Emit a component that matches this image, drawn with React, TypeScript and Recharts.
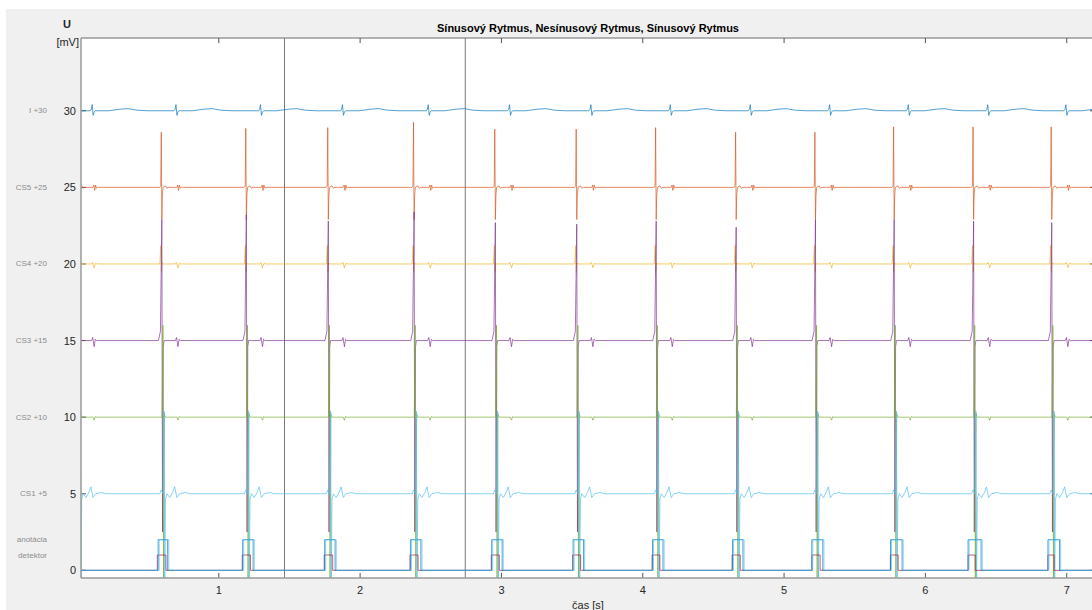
import { LineChart, Line, XAxis, YAxis, ReferenceLine, CartesianGrid } from 'recharts';

// axis limits [s] / [mV]
const X_MIN = 0.025;
const X_MAX = 7.2;
const Y_MIN = -0.5;
const Y_MAX = 34.75;

const xTicks = [1, 2, 3, 4, 5, 6, 7];
const yTicks = [0, 5, 10, 15, 20, 25, 30];
const yLabelTicks = [0, 1, 2, 5, 10, 15, 20, 25, 30];
const channelLabels: Record<number, string> = {
  30: 'I +30',
  25: 'CS5 +25',
  20: 'CS4 +20',
  15: 'CS3 +15',
  10: 'CS2 +10',
  5: 'CS1 +5',
  2: 'anotácia',
  1: 'detektor',
};

// boundaries between rhythm segments [s]
const rhythmBounds = [1.465, 2.744];

// beat onsets (first one lies just left of the window)
const beatTimes = [0.0, 0.593, 1.191, 1.771, 2.378, 2.953, 3.529, 4.091, 4.657, 5.218, 5.775, 6.337, 6.89];
const cs5Peaks = [28.8, 28.6, 28.85, 28.9, 29.25, 28.8, 28.8, 28.9, 28.6, 28.6, 28.95, 28.95, 28.95];
const cs3Peaks = [22.8, 22.9, 23.2, 22.8, 23.4, 22.7, 22.6, 22.8, 22.4, 22.9, 22.9, 22.8, 22.7];

// annotation / detector windows [s]
const annotStart = [0.571, 1.169, 1.749, 2.356, 2.931, 3.507, 4.069, 4.635, 5.196, 5.753, 6.302, 6.867];
const annotEnd = [0.638, 1.243, 1.823, 2.43, 3.005, 3.581, 4.143, 4.709, 5.274, 5.835, 6.394, 6.949];
const refStart = [0.578, 1.176, 1.756, 2.363, 2.938, 3.514, 4.076, 4.642, 5.203, 5.76, 6.309, 6.874];
const refEnd = [0.646, 1.251, 1.831, 2.438, 3.013, 3.589, 4.151, 4.717, 5.282, 5.843, 6.402, 6.957];
const detStart = [0.565, 1.166, 1.746, 2.353, 2.928, 3.504, 4.066, 4.632, 5.198, 5.752, 6.302, 6.867];
const detEnd = [0.626, 1.224, 1.806, 2.41, 2.985, 3.56, 4.121, 4.69, 5.255, 5.807, 6.352, 6.911];

// beat shapes: [time offset from beat, deviation from baseline]; PEAK takes the per-beat peak
const PEAK = NaN;
const leadIShape = [
  [0.09, 0], [0.098, 0.1], [0.104, 0.4], [0.111, -0.3], [0.118, -0.08], [0.126, 0],
  [0.22, 0], [0.3, 0.1], [0.36, 0.14], [0.42, 0.04], [0.5, 0],
];
const cs5Shape = [
  [-0.012, 0], [-0.004, 0.1], [0, PEAK], [0.004, -2.1], [0.008, -0.5], [0.013, 0],
  [0.03, 0.1], [0.04, -0.06], [0.05, 0],
  [0.11, 0], [0.116, 0.15], [0.122, -0.2], [0.128, 0.15], [0.135, -0.06], [0.142, 0],
];
const cs4Shape = [
  [-0.01, 0], [-0.003, 1.2], [0.001, -0.55], [0.005, 0.08], [0.01, 0],
  [0.1, 0], [0.108, 0.1], [0.118, -0.25], [0.128, 0.04], [0.14, 0],
];
const cs3Shape = [
  [-0.02, 0], [-0.006, 0.6], [0.004, PEAK], [0.009, -12.5], [0.014, -0.4], [0.02, 0],
  [0.1, 0], [0.108, 0.2], [0.118, -0.4], [0.126, 0.08], [0.135, 0],
];
const cs2Shape = [
  [0.005, 0], [0.012, 6.0], [0.016, -10.5], [0.022, 0.25], [0.028, 0],
  [0.11, 0], [0.118, -0.2], [0.126, 0.04], [0.132, 0],
];
const cs1Shape = [
  [-0.01, 0], [0.0, 0.25], [0.012, 0], [0.02, 5.4], [0.025, -5.6], [0.03, -0.35], [0.04, 0],
  [0.06, -0.25], [0.08, 0.08], [0.095, 0.45], [0.11, -0.25], [0.13, 0], [0.17, 0.08], [0.2, 0],
];

type Pt = { t: number; v: number };

function buildTrace(base: number, shape: number[][], peaks?: number[]): Pt[] {
  const pts: Pt[] = [{ t: -0.1, v: base }];
  beatTimes.forEach((bt, i) => {
    shape.forEach(([dt, dv]) => {
      pts.push({ t: bt + dt, v: Number.isNaN(dv) && peaks ? peaks[i] : base + dv });
    });
  });
  pts.push({ t: X_MAX + 0.1, v: base });
  return pts.sort((a, b) => a.t - b.t);
}

function buildBoxes(starts: number[], ends: number[], level: number): Pt[] {
  const pts: Pt[] = [{ t: -0.1, v: 0 }];
  starts.forEach((s, i) => {
    pts.push({ t: s, v: 0 }, { t: s, v: level }, { t: ends[i], v: level }, { t: ends[i], v: 0 });
  });
  pts.push({ t: X_MAX + 0.1, v: 0 });
  return pts;
}

const traces = [
  { name: 'I', color: '#0072BD', data: buildTrace(30, leadIShape) },
  { name: 'CS5', color: '#D95319', data: buildTrace(25, cs5Shape, cs5Peaks) },
  { name: 'CS4', color: '#EDB120', data: buildTrace(20, cs4Shape) },
  { name: 'CS3', color: '#7E2F8E', data: buildTrace(15, cs3Shape, cs3Peaks) },
  { name: 'CS2', color: '#77AC30', data: buildTrace(10, cs2Shape) },
  { name: 'CS1', color: '#4DBEEE', data: buildTrace(5, cs1Shape) },
  { name: 'detektor', color: '#A2142F', data: buildBoxes(detStart, detEnd, 1) },
  { name: 'anotácia', color: '#0072BD', data: buildBoxes(annotStart, annotEnd, 2) },
  { name: 'referencia', color: '#4DBEEE', data: buildBoxes(refStart, refEnd, 2) },
];

const FONT = '"Liberation Sans", Arial, Helvetica, sans-serif';
const TICK_X = 0.035;
const TICK_Y = 0.33;
const AXIS = '#9a9a9a';

function YTick(props: any) {
  const { y, payload } = props;
  const v = payload.value as number;
  const label = channelLabels[v];
  return (
    <g>
      {v % 5 === 0 && (
        <text x={76} y={y} textAnchor="end" dominantBaseline="central" fontSize={11} fill="#262626" fontFamily={FONT}>
          {v}
        </text>
      )}
      {label && (
        <text x={47} y={y} textAnchor="end" dominantBaseline="central" fontSize={8} fill="#8c8c8c" fontFamily={FONT}>
          {label}
        </text>
      )}
    </g>
  );
}

export default function App() {
  return (
    <div style={{ position: 'absolute', left: 0, top: 0, width: 1092, height: 610, overflow: 'hidden', background: '#fff', fontFamily: FONT }}>
      <div style={{ position: 'absolute', left: 6, top: 9, right: 0, bottom: 0, background: '#f0f0f0' }} />
      <div style={{ position: 'absolute', left: 0, top: 21, width: 1176, textAlign: 'center', fontSize: 11, fontWeight: 'bold', color: '#000', lineHeight: '14px' }}>
        Sínusový Rytmus, Nesínusový Rytmus, Sínusový Rytmus
      </div>
      <div style={{ position: 'absolute', left: 63, top: 17, fontSize: 11, fontWeight: 'bold', color: '#262626', lineHeight: '14px' }}>U</div>
      <div style={{ position: 'absolute', right: 1092 - 79, top: 35, fontSize: 11, color: '#262626', lineHeight: '14px' }}>[mV]</div>
      <div style={{ position: 'absolute', left: 0, top: 0 }}>
        <LineChart width={1100} height={610} margin={{ top: 38, right: 5, bottom: 0, left: 0 }}>
          <CartesianGrid horizontal={false} vertical={false} fill="#ffffff" fillOpacity={1} />
          <XAxis
            dataKey="t"
            type="number"
            domain={[X_MIN, X_MAX]}
            allowDataOverflow
            ticks={xTicks}
            interval={0}
            tickLine={false}
            tickSize={0}
            tickMargin={8}
            height={32}
            stroke={AXIS}
            strokeWidth={1.5}
            tick={{ fontSize: 11, fill: '#262626', fontFamily: FONT }}
            label={{ value: 'čas [s]', position: 'insideBottom', offset: 1, fontSize: 11, fill: '#262626', fontFamily: FONT }}
          />
          <YAxis
            type="number"
            domain={[Y_MIN, Y_MAX]}
            allowDataOverflow
            ticks={yLabelTicks}
            interval={0}
            width={81}
            tickLine={false}
            stroke={AXIS}
            strokeWidth={1.5}
            tick={<YTick />}
          />
          <ReferenceLine y={Y_MAX} stroke={AXIS} strokeWidth={1.5} ifOverflow="visible" />
          <ReferenceLine x={X_MAX} stroke={AXIS} strokeWidth={1.5} ifOverflow="visible" />
          {rhythmBounds.map((b) => (
            <ReferenceLine key={`rb${b}`} x={b} stroke="#7a7a7a" strokeWidth={1} />
          ))}
          {xTicks.map((t) => (
            <ReferenceLine key={`xb${t}`} segment={[{ x: t, y: Y_MIN }, { x: t, y: Y_MIN + TICK_Y }]} stroke="#555" ifOverflow="visible" />
          ))}
          {xTicks.map((t) => (
            <ReferenceLine key={`xt${t}`} segment={[{ x: t, y: Y_MAX - TICK_Y }, { x: t, y: Y_MAX }]} stroke="#555" ifOverflow="visible" />
          ))}
          {yTicks.map((v) => (
            <ReferenceLine key={`yl${v}`} segment={[{ x: X_MIN, y: v }, { x: X_MIN + TICK_X, y: v }]} stroke="#555" ifOverflow="visible" />
          ))}
          {yTicks.map((v) => (
            <ReferenceLine key={`yr${v}`} segment={[{ x: X_MAX - TICK_X, y: v }, { x: X_MAX, y: v }]} stroke="#555" ifOverflow="visible" />
          ))}
          {traces.map((s) => (
            <Line
              key={s.name}
              name={s.name}
              data={s.data}
              dataKey="v"
              type="linear"
              stroke={s.color}
              strokeWidth={0.9}
              strokeOpacity={0.75}
              dot={false}
              activeDot={false}
              isAnimationActive={false}
            />
          ))}
        </LineChart>
      </div>
    </div>
  );
}
